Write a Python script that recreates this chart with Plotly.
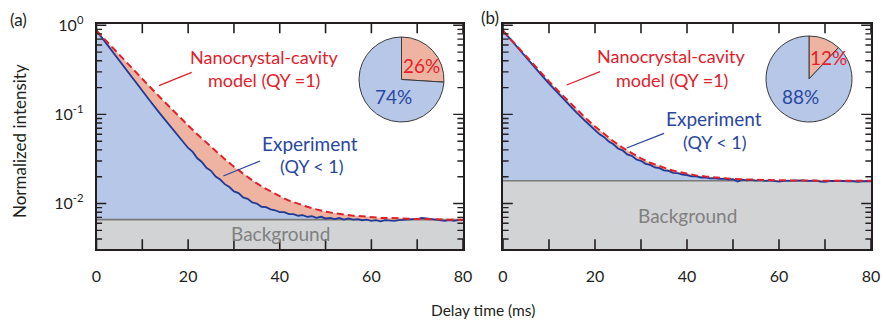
import plotly.graph_objects as go

# ---------------- data ----------------
bg_a = 0.0066
bg_b = 0.0180

t_model = [0, 2, 4, 6, 8, 10, 12, 14, 16, 18, 20,
           22, 24, 26, 28, 30, 32, 34, 36, 38, 40,
           42, 44, 46, 48, 50, 52, 54, 56, 58, 60,
           62, 64, 66, 68, 70, 72, 74, 76, 78, 80]
model_a = [0.870, 0.676, 0.527, 0.410, 0.320, 0.250, 0.195, 0.153, 0.120, 0.0949, 0.0751,
           0.0598, 0.0479, 0.0387, 0.0315, 0.0259, 0.0216, 0.0182, 0.0156, 0.0136, 0.0121,
           0.0108, 0.0099, 0.0092, 0.0086, 0.0081, 0.0078, 0.0075, 0.0073, 0.0072, 0.0070,
           0.0069, 0.0069, 0.0068, 0.0067, 0.0067, 0.0067, 0.0066, 0.0066, 0.0066, 0.0066]
model_b = [0.870, 0.666, 0.511, 0.393, 0.303, 0.235, 0.183, 0.1436, 0.1135, 0.0907, 0.0733,
           0.0600, 0.0500, 0.0423, 0.0365, 0.0321, 0.0287, 0.0262, 0.0242, 0.0227, 0.0216,
           0.0207, 0.0201, 0.0196, 0.0192, 0.0189, 0.0187, 0.0185, 0.0184, 0.0183, 0.0182,
           0.0182, 0.0181, 0.0181, 0.0181, 0.0181, 0.0180, 0.0180, 0.0180, 0.0180, 0.0180]

t_exp = [0, 2, 4, 6, 8, 10, 12, 14, 16, 18, 19,
         20, 21, 22, 23, 24, 25, 26, 27, 28, 29,
         30, 31, 32, 33, 34, 35, 36, 37, 38, 39,
         40, 41, 42, 43, 44, 45, 46, 47, 48, 49,
         50, 51, 52, 53, 54, 55, 56, 57, 58, 59,
         60, 61, 62, 63, 64, 65, 66, 67, 68, 69,
         70, 71, 72, 73, 74, 75, 76, 77, 78, 79,
         80]
exp_a = [0.870, 0.635, 0.464, 0.339, 0.249, 0.183, 0.135, 0.100, 0.0745, 0.0560, 0.0490,
         0.0420, 0.0380, 0.0322, 0.0293, 0.0252, 0.0233, 0.0201, 0.0186, 0.0165, 0.0153,
         0.0137, 0.0131, 0.0117, 0.0113, 0.0103, 0.0100, 0.0092, 0.0091, 0.0086, 0.0084,
         0.0080, 0.0080, 0.0076, 0.0076, 0.0073, 0.0074, 0.0071, 0.0072, 0.0069, 0.0071,
         0.0068, 0.0069, 0.0067, 0.0069, 0.0066, 0.0068, 0.0066, 0.0067, 0.0065, 0.0066,
         0.0064, 0.0065, 0.0063, 0.0065, 0.0064, 0.0064, 0.0065, 0.0066, 0.0066, 0.0067,
         0.0067, 0.0069, 0.0068, 0.0067, 0.0066, 0.0066, 0.0064, 0.0065, 0.0064, 0.0065,
         0.0065]
exp_b = [0.870, 0.658, 0.499, 0.380, 0.290, 0.222, 0.172, 0.1335, 0.1048, 0.0832, 0.0746,
         0.0675, 0.0598, 0.0556, 0.0495, 0.0462, 0.0415, 0.0395, 0.0356, 0.0343, 0.0312,
         0.0302, 0.0279, 0.0271, 0.0254, 0.0249, 0.0236, 0.0232, 0.0221, 0.0219, 0.0211,
         0.0209, 0.0202, 0.0202, 0.0196, 0.0197, 0.0192, 0.0193, 0.0189, 0.0190, 0.0186,
         0.0188, 0.0177, 0.0185, 0.0182, 0.0184, 0.0181, 0.0183, 0.0180, 0.0182, 0.0178,
         0.0176, 0.0180, 0.0181, 0.0179, 0.0180, 0.0182, 0.0180, 0.0179, 0.0181, 0.0176,
         0.0175, 0.0179, 0.0180, 0.0178, 0.0179, 0.0177, 0.0178, 0.0175, 0.0177, 0.0178,
         0.0177]

pie_labels = ["Nanocrystal-cavity excess", "Experiment"]
pie_a = [26, 74]
pie_b = [12, 88]

x_ticks = [0, 20, 40, 60, 80]
x_minor = [10, 30, 50, 70]
y_ticks = [1, 0.1, 0.01]
y_ticktext = ["10<sup>0</sup>", "10<sup>-1</sup>", "10<sup>-2</sup>"]
y_minor = [0.004, 0.005, 0.006, 0.007, 0.008, 0.009,
           0.02, 0.03, 0.04, 0.05, 0.06, 0.07, 0.08, 0.09,
           0.2, 0.3, 0.4, 0.5, 0.6, 0.7, 0.8, 0.9]

# ---------------- style ----------------
W, H = 883, 328
FONT = "Lato"
C_AX = "#231F20"
C_BLUE_FILL = "#B7C7E8"
C_ORANGE_FILL = "#EFB4A1"
C_GRAY_FILL = "#D2D3D5"
C_GRAY_LINE = "#7A7A7A"
C_BLUE_LINE = "#1E3A96"
C_RED = "#E2202B"
C_BLUE_TXT = "#2A47A0"

X_RANGE = [0, 80]
Y_RANGE = [-2.51, 0.02]          # log10 of the axis limits
PLOT_TOP, PLOT_BOT = 23.5, 249
PA_L, PA_R = 96.5, 463
PB_L, PB_R = 503, 871


def px(x):
    return x / W


def py(y):
    return 1 - y / H


fig = go.Figure()


def add_panel(xa, ya, bg, t_e, e, t_m, m):
    fig.add_trace(go.Scatter(x=X_RANGE, y=[1e-4, 1e-4], mode="lines",
                             line=dict(width=0, color=C_GRAY_FILL),
                             xaxis=xa, yaxis=ya, hoverinfo="skip", showlegend=False))
    fig.add_trace(go.Scatter(x=X_RANGE, y=[bg, bg], mode="lines",
                             line=dict(width=1.6, color=C_GRAY_LINE),
                             fill="tonexty", fillcolor=C_GRAY_FILL,
                             xaxis=xa, yaxis=ya, hoverinfo="skip", showlegend=False))
    fig.add_trace(go.Scatter(x=t_e, y=e, mode="lines",
                             line=dict(width=1.8, color=C_BLUE_LINE),
                             fill="tonexty", fillcolor=C_BLUE_FILL,
                             xaxis=xa, yaxis=ya, showlegend=False))
    fig.add_trace(go.Scatter(x=t_m, y=m, mode="lines",
                             line=dict(width=2, color=C_RED, dash="7px,4px"),
                             fill="tonexty", fillcolor=C_ORANGE_FILL,
                             xaxis=xa, yaxis=ya, showlegend=False))


def add_ticks(xa, ya):
    # inward tick marks on all four sides, placed by the axes' own scales
    y_lo, y_hi = 10 ** Y_RANGE[0], 10 ** Y_RANGE[1]
    xt = x_ticks + x_minor
    for yy in (y_lo, y_hi):
        fig.add_trace(go.Scatter(x=xt, y=[yy] * len(xt), mode="markers",
                                 marker=dict(symbol="line-ns", size=14, color=C_AX,
                                             line=dict(width=1.6, color=C_AX)),
                                 cliponaxis=True, xaxis=xa, yaxis=ya,
                                 hoverinfo="skip", showlegend=False))
    for vals, size in [(y_ticks, 14), (y_minor, 8)]:
        for xx in X_RANGE:
            fig.add_trace(go.Scatter(x=[xx] * len(vals), y=vals, mode="markers",
                                     marker=dict(symbol="line-ew", size=size, color=C_AX,
                                                 line=dict(width=1.4, color=C_AX)),
                                     cliponaxis=True, xaxis=xa, yaxis=ya,
                                     hoverinfo="skip", showlegend=False))


add_panel("x", "y", bg_a, t_exp, exp_a, t_model, model_a)
add_panel("x2", "y2", bg_b, t_exp, exp_b, t_model, model_b)
add_ticks("x", "y")
add_ticks("x2", "y2")

# pies
for vals, dom in [(pie_a, dict(x=[px(359), px(444)], y=[py(122), py(37)])),
                  (pie_b, dict(x=[px(766), px(852)], y=[py(122), py(36)]))]:
    fig.add_trace(go.Pie(values=vals, labels=pie_labels, sort=False, direction="clockwise",
                         rotation=0, textinfo="none", hoverinfo="skip",
                         marker=dict(colors=[C_ORANGE_FILL, C_BLUE_FILL],
                                     line=dict(color="#3A3A3A", width=1)),
                         domain=dom, showlegend=False))


def xcfg(dom, anchor):
    return dict(domain=dom, anchor=anchor, range=X_RANGE, tickvals=x_ticks,
                ticks="", showline=True, linecolor=C_AX, linewidth=1.8, mirror=True,
                showgrid=False, zeroline=False, automargin=False,
                tickfont=dict(family=FONT, size=16, color=C_AX), ticklabelstandoff=12)


def ycfg(dom, anchor, labels):
    d = dict(domain=dom, anchor=anchor, type="log", range=Y_RANGE, tickvals=y_ticks,
             ticks="", showline=True, linecolor=C_AX, linewidth=1.8, mirror=True,
             showgrid=False, zeroline=False, automargin=False)
    if labels:
        d.update(ticktext=y_ticktext, tickfont=dict(family=FONT, size=16, color=C_AX),
                 ticklabelstandoff=8)
    else:
        d.update(showticklabels=False)
    return d


ydom = [py(PLOT_BOT), py(PLOT_TOP)]
fig.update_layout(
    width=W, height=H, autosize=False,
    margin=dict(l=0, r=0, t=0, b=0),
    paper_bgcolor="white", plot_bgcolor="white",
    font=dict(family=FONT, size=16, color=C_AX),
    xaxis=xcfg([px(PA_L), px(PA_R)], "y"),
    yaxis=ycfg(ydom, "x", True),
    xaxis2=xcfg([px(PB_L), px(PB_R)], "y2"),
    yaxis2=ycfg(ydom, "x2", False),
    showlegend=False,
)

shapes = []
for (x0, y0, x1, y1, c) in [(159, 85.7, 191.7, 72.3, C_RED),
                            (223.3, 176, 260, 161, C_BLUE_TXT),
                            (566.7, 85, 600, 71.7, C_RED),
                            (626.7, 148, 664, 133.3, C_BLUE_TXT)]:
    shapes.append(dict(type="line", xref="paper", yref="paper",
                       x0=px(x0), y0=py(y0), x1=px(x1), y1=py(y1),
                       line=dict(color=c, width=1.3)))
fig.update_layout(shapes=shapes)

ann = []


def text(x, y, s, color, size=18, angle=0):
    ann.append(dict(x=px(x), y=py(y), xref="paper", yref="paper", text=s,
                    showarrow=False, xanchor="center", yanchor="middle", textangle=angle,
                    font=dict(family=FONT, size=size, color=color)))


text(264, 57, "Nanocrystal-cavity", C_RED)
text(264, 80, "model (QY =1)", C_RED)
text(309.5, 143, "Experiment", C_BLUE_TXT, 19)
text(312, 166, "(QY &lt; 1)", C_BLUE_TXT)
text(280, 233, "Background", "#808080", 19)
text(421, 65, "26%", C_RED, 19)
text(393, 97, "74%", C_BLUE_TXT, 19)

text(671, 56, "Nanocrystal-cavity", C_RED)
text(671.5, 80, "model (QY =1)", C_RED)
text(714, 118, "Experiment", C_BLUE_TXT, 19)
text(715, 142, "(QY &lt; 1)", C_BLUE_TXT)
text(687, 215, "Background", "#808080", 19)
text(828, 58, "12%", C_RED, 19)
text(800, 97, "88%", C_BLUE_TXT, 19)

text(18, 19, "(a)", C_AX, size=17)
text(490, 17, "(b)", C_AX, size=17)
text(19, 141, "Normalized intensity", C_AX, size=17, angle=-90)
text(483, 310, "Delay time (ms)", C_AX, size=15.5)

fig.update_layout(annotations=ann)

fig.write_html("out.html", config={"displayModeBar": False},
               post_script="document.body.style.margin='0';document.body.style.padding='0';")
